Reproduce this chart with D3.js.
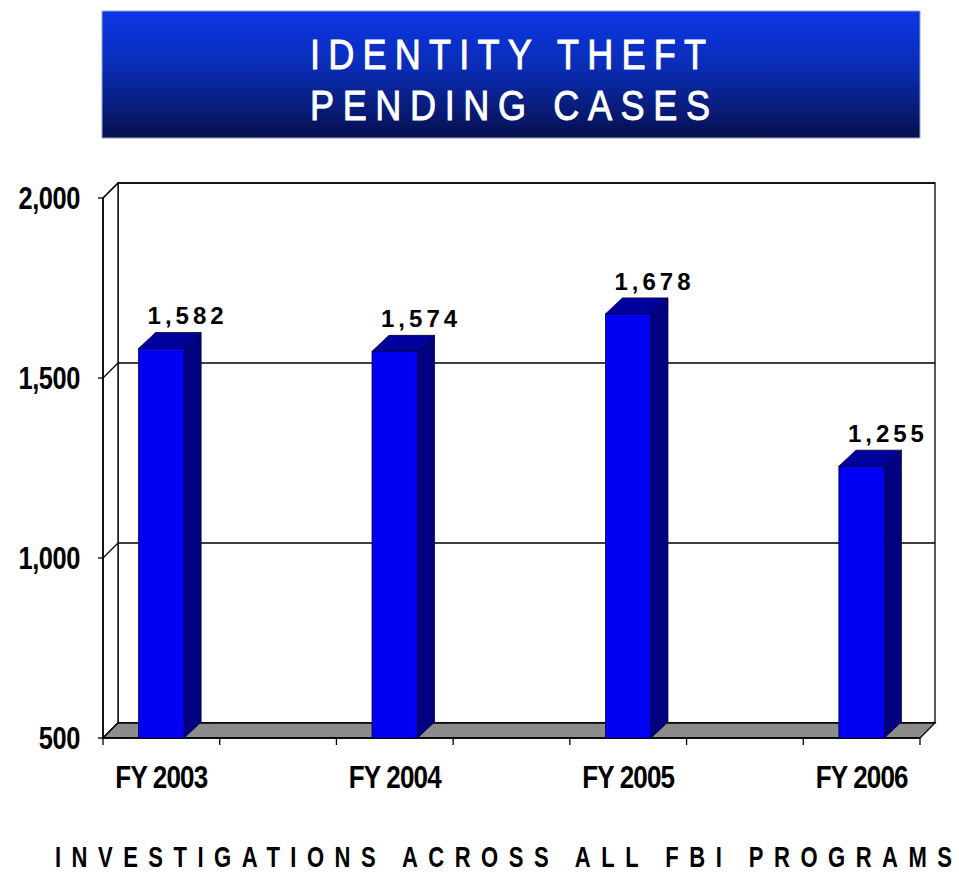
<!DOCTYPE html>
<html>
<head>
<meta charset="utf-8">
<script src="https://cdn.jsdelivr.net/npm/d3@7/dist/d3.min.js"></script>
<style>
  html, body { margin: 0; padding: 0; background: #ffffff; }
  svg { display: block; }
</style>
</head>
<body>
<script>
// ---- data ----
const titleLines = ["IDENTITY THEFT", "PENDING CASES"];
const categories = ["FY 2003", "FY 2004", "FY 2005", "FY 2006"];
const values = [1582, 1574, 1678, 1255];
const yTicks = [500, 1000, 1500, 2000];
const footer = "INVESTIGATIONS ACROSS ALL FBI PROGRAMS";

// ---- layout ----
const W = 959, H = 873;
const front = { left: 103, right: 920, top: 198, bottom: 738 };
const depth = { dx: 15, dy: 15 };       // floor / wall depth
const barDepth = { dx: 17, dy: 16 };
const nSlots = categories.length * 2 - 1;

const svg = d3.select("body").append("svg").attr("width", W).attr("height", H);

// ---- title box ----
const defs = svg.append("defs");
const grad = defs.append("linearGradient").attr("id", "tg")
  .attr("x1", 0).attr("y1", 0).attr("x2", 0).attr("y2", 1);
grad.append("stop").attr("offset", "0%").attr("stop-color", "#0c36e8");
grad.append("stop").attr("offset", "45%").attr("stop-color", "#0a2cb4");
grad.append("stop").attr("offset", "100%").attr("stop-color", "#06104e");

svg.append("rect").attr("x", 102).attr("y", 11).attr("width", 818).attr("height", 127)
  .attr("fill", "url(#tg)").attr("stroke", "#9aa6c8").attr("stroke-width", 1);

const titleBase = [69, 120];
svg.selectAll("text.title").data(titleLines).join("text")
  .attr("class", "title")
  .attr("transform", (d, i) => `translate(310,${titleBase[i]}) scale(0.86,1)`)
  .attr("font-family", "Liberation Sans, Arial, sans-serif")
  .attr("font-size", 42)
  .attr("fill", "#ffffff")
  .attr("stroke", "#ffffff").attr("stroke-width", 0.9)
  .attr("textLength", (d, i) => (i === 0 ? 396 : 400) / 0.86)
  .attr("lengthAdjust", "spacing")
  .text(d => d);

// ---- scales ----
const y = d3.scaleLinear().domain([yTicks[0], yTicks[yTicks.length - 1]])
  .range([front.bottom, front.top]);
const slot = d3.scaleBand().domain(d3.range(nSlots)).range([front.left, front.right]);
const barW = slot.bandwidth() * 0.39;
const catX = (i) => slot(i * 2) + slot.bandwidth() / 2;

const g = svg.append("g");

// back wall
g.append("rect")
  .attr("x", front.left + depth.dx).attr("y", y(yTicks[yTicks.length - 1]) - depth.dy)
  .attr("width", front.right - front.left)
  .attr("height", y(yTicks[0]) - y(yTicks[yTicks.length - 1]))
  .attr("fill", "#ffffff").attr("stroke", "#000").attr("stroke-width", 1.3);

// left wall
const lw = [[front.left, y(yTicks[0])], [front.left + depth.dx, y(yTicks[0]) - depth.dy],
            [front.left + depth.dx, y(yTicks[yTicks.length - 1]) - depth.dy], [front.left, y(yTicks[yTicks.length - 1])]];
g.append("path").attr("d", "M" + lw.join("L") + "Z")
  .attr("fill", "#ffffff").attr("stroke", "#000").attr("stroke-width", 1.3);

// gridlines on back wall + diagonals on left wall + ticks
yTicks.forEach(t => {
  const yy = y(t);
  g.append("line")
    .attr("x1", front.left + depth.dx).attr("x2", front.right + depth.dx)
    .attr("y1", yy - depth.dy).attr("y2", yy - depth.dy)
    .attr("stroke", "#000").attr("stroke-width", 1.3);
  g.append("line")
    .attr("x1", front.left).attr("y1", yy)
    .attr("x2", front.left + depth.dx).attr("y2", yy - depth.dy)
    .attr("stroke", "#000").attr("stroke-width", 1.3);
  g.append("line")
    .attr("x1", front.left - 5).attr("x2", front.left)
    .attr("y1", yy).attr("y2", yy)
    .attr("stroke", "#000").attr("stroke-width", 1.3);
});

// floor
const fl = [[front.left, front.bottom], [front.left + depth.dx, front.bottom - depth.dy],
            [front.right + depth.dx, front.bottom - depth.dy], [front.right, front.bottom]];
g.append("path").attr("d", "M" + fl.join("L") + "Z")
  .attr("fill", "#8c8c8c").attr("stroke", "#000").attr("stroke-width", 1.3);

// front axes
g.append("line").attr("x1", front.left).attr("x2", front.left)
  .attr("y1", front.top).attr("y2", front.bottom).attr("stroke", "#000").attr("stroke-width", 1.5);
g.append("line").attr("x1", front.left).attr("x2", front.right)
  .attr("y1", front.bottom).attr("y2", front.bottom).attr("stroke", "#000").attr("stroke-width", 1.5);
const tickXs = d3.range(nSlots).map(i => slot(i)).concat([front.right]);
g.selectAll("line.xt").data(tickXs).join("line").attr("class", "xt")
  .attr("x1", d => d).attr("x2", d => d)
  .attr("y1", front.bottom).attr("y2", front.bottom + 7)
  .attr("stroke", "#000").attr("stroke-width", 1.3);

// y labels
g.selectAll("text.yl").data(yTicks).join("text").attr("class", "yl")
  .attr("transform", d => `translate(80,${y(d) + 11}) scale(0.82,1)`)
  .attr("text-anchor", "end")
  .attr("font-family", "Liberation Sans, Arial, sans-serif")
  .attr("font-weight", "bold").attr("font-size", 31)
  .attr("letter-spacing", -0.5)
  .attr("fill", "#000")
  .text(d => d3.format(",")(d));

// x labels
g.selectAll("text.xl").data(categories).join("text").attr("class", "xl")
  .attr("transform", (d, i) => `translate(${catX(i)},788) scale(0.84,1)`)
  .attr("text-anchor", "middle")
  .attr("font-family", "Liberation Sans, Arial, sans-serif")
  .attr("font-weight", "bold").attr("font-size", 31)
  .attr("letter-spacing", -1)
  .attr("fill", "#000")
  .text(d => d);

// bars
const bars = g.selectAll("g.bar").data(values).join("g").attr("class", "bar");
bars.each(function (v, i) {
  const b = d3.select(this);
  const x0 = catX(i) - barW / 2, x1 = catX(i) + barW / 2;
  const yt = y(v), yb = y(yTicks[0]);
  const dx = barDepth.dx, dy = barDepth.dy;
  // side
  b.append("path")
    .attr("d", `M${x1},${yb}L${x1 + dx},${yb - dy}L${x1 + dx},${yt - dy}L${x1},${yt}Z`)
    .attr("fill", "#000080").attr("stroke", "#000033").attr("stroke-width", 0.8);
  // top
  b.append("path")
    .attr("d", `M${x0},${yt}L${x0 + dx},${yt - dy}L${x1 + dx},${yt - dy}L${x1},${yt}Z`)
    .attr("fill", "#00009c").attr("stroke", "#000033").attr("stroke-width", 0.8);
  // front
  b.append("rect").attr("x", x0).attr("y", yt).attr("width", barW).attr("height", yb - yt)
    .attr("fill", "#0000f5").attr("stroke", "#000033").attr("stroke-width", 0.8);
  // value label
  b.append("text")
    .attr("x", x0 + 9).attr("y", yt - dy - 8)
    .attr("font-family", "Liberation Sans, Arial, sans-serif")
    .attr("font-weight", "bold").attr("font-size", 24)
    .attr("letter-spacing", 4)
    .attr("fill", "#000")
    .text(d3.format(",")(v));
});

// footer
svg.append("text")
  .attr("transform", "translate(55,867) scale(0.76,1)")
  .attr("font-family", "Liberation Sans, Arial, sans-serif")
  .attr("font-weight", "bold").attr("font-size", 29)
  .attr("textLength", 897 / 0.76).attr("lengthAdjust", "spacing")
  .attr("fill", "#000")
  .text(footer);
</script>
</body>
</html>
